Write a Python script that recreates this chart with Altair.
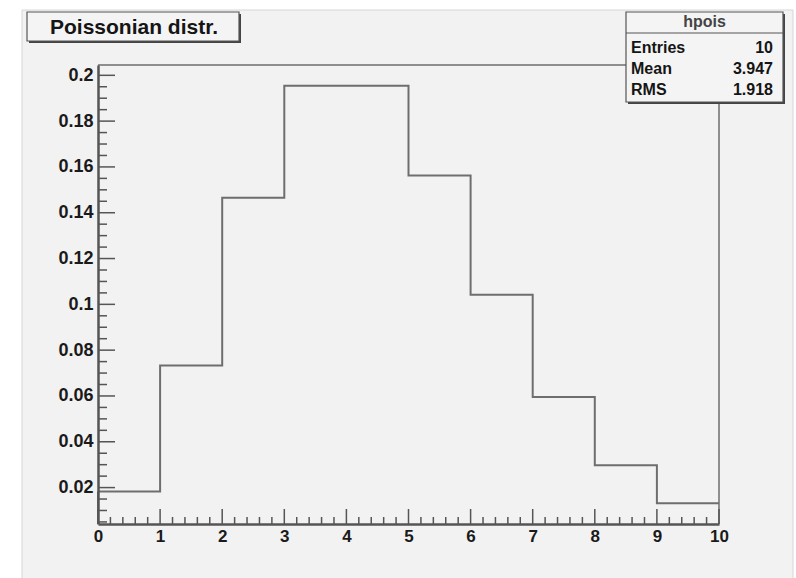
import altair as alt
import pandas as pd

# Histogram "hpois": Poisson probabilities, unit-width bins on [0, 10]
bin_edges = [0, 1, 2, 3, 4, 5, 6, 7, 8, 9, 10]
bin_contents = [0.0183, 0.0733, 0.1465, 0.1954, 0.1954, 0.1563, 0.1042, 0.0595, 0.0298, 0.0132]

x_major = [0, 1, 2, 3, 4, 5, 6, 7, 8, 9, 10]
x_minor = [i / 5 for i in range(51) if i % 5 != 0]
y_major = [0.02, 0.04, 0.06, 0.08, 0.10, 0.12, 0.14, 0.16, 0.18, 0.20]
y_minor = [round(0.005 * i, 3) for i in range(1, 41) if i % 4 != 0]

title_text = "Poissonian distr."
stats_name = "hpois"
stats_labels = ["Entries", "Mean", "RMS"]
stats_values = ["10", "3.947", "1.918"]

W, H = 621, 459
Y_DOMAIN = [0.0041, 0.2045]
FONT = "Liberation Sans"
LINE = "#6e6e6e"

xs = alt.Scale(domain=[0, 10], nice=False, zero=False)
ys = alt.Scale(domain=Y_DOMAIN, nice=False, zero=False)

one = alt.Data(values=[{"d": 0}])

# grey pad behind everything
pad = alt.Chart(one).mark_rect(fill="#f2f2f2", stroke="#d6d6d6", strokeWidth=1).encode(
    x=alt.value(-76), x2=alt.value(695), y=alt.value(-55), y2=alt.value(515)
)

# histogram outline (step line closing on the last bin edge)
hist_df = pd.DataFrame({
    "x": bin_edges,
    "y": bin_contents + [bin_contents[-1]],
})
hist = alt.Chart(hist_df).mark_line(
    interpolate="step-after", color=LINE, strokeWidth=2
).encode(
    x=alt.X("x:Q", scale=xs, axis=alt.Axis(
        values=x_major, format="d", tickSize=0, labelPadding=4, domain=True,
        domainColor="#555555", domainWidth=2.5, grid=False, title=None, zindex=2,
        labelFont=FONT, labelFontSize=17, labelFontWeight="bold", labelColor="#1a1a1a",
        labelFlush=False)),
    y=alt.Y("y:Q", scale=ys, axis=alt.Axis(
        values=y_major, format="~g", tickSize=0, labelPadding=5, domain=True,
        domainColor="#555555", domainWidth=2.5, grid=False, title=None, zindex=2,
        labelFont=FONT, labelFontSize=18, labelFontWeight="bold", labelColor="#1a1a1a")),
)
# left edge of the first bin rising from the axis
hist_left = alt.Chart(pd.DataFrame({"x": [0], "y0": [Y_DOMAIN[0]], "y1": [bin_contents[0]]})).mark_rule(
    color=LINE, strokeWidth=2
).encode(x=alt.X("x:Q", scale=xs), y=alt.Y("y0:Q", scale=ys), y2="y1:Q")

# frame (top and right sides)
frame_top = alt.Chart(one).mark_rule(color=LINE, strokeWidth=1.5).encode(
    x=alt.value(0), x2=alt.value(W), y=alt.value(0))
frame_right = alt.Chart(one).mark_rule(color=LINE, strokeWidth=1.5).encode(
    x=alt.value(W), y=alt.value(0), y2=alt.value(H))

# inward ticks
xmaj = alt.Chart(pd.DataFrame({"v": x_major})).mark_rule(color="#555555", strokeWidth=1.5).encode(
    x=alt.X("v:Q", scale=xs), y=alt.value(H - 15), y2=alt.value(H))
xmin = alt.Chart(pd.DataFrame({"v": x_minor})).mark_rule(color="#555555", strokeWidth=1.5).encode(
    x=alt.X("v:Q", scale=xs), y=alt.value(H - 7), y2=alt.value(H))
ymaj = alt.Chart(pd.DataFrame({"v": y_major})).mark_rule(color="#555555", strokeWidth=1.5).encode(
    y=alt.Y("v:Q", scale=ys), x=alt.value(0), x2=alt.value(17))
ymin = alt.Chart(pd.DataFrame({"v": y_minor})).mark_rule(color="#555555", strokeWidth=1.5).encode(
    y=alt.Y("v:Q", scale=ys), x=alt.value(0), x2=alt.value(9))


def box(x0, x1, y0, y1):
    shadow = alt.Chart(one).mark_rect(fill="#444444").encode(
        x=alt.value(x0 + 2), x2=alt.value(x1 + 2), y=alt.value(y0 + 2), y2=alt.value(y1 + 2))
    body = alt.Chart(one).mark_rect(fill="#f4f4f4", stroke="#555555", strokeWidth=1.2).encode(
        x=alt.value(x0), x2=alt.value(x1), y=alt.value(y0), y2=alt.value(y1))
    return [shadow, body]


# title box
title_layers = box(-71, 141, -53, -24) + [
    alt.Chart(pd.DataFrame({"t": [title_text]})).mark_text(
        font=FONT, fontSize=21, fontWeight="bold", color="#151515", align="center", baseline="middle"
    ).encode(text="t:N", x=alt.value(36), y=alt.value(-37))
]

# statistics box
SX0, SX1, SY0, SY1 = 528, 685, -53, 37
stats_layers = box(SX0, SX1, SY0, SY1)
stats_layers.append(alt.Chart(one).mark_rule(color="#555555", strokeWidth=1.2).encode(
    x=alt.value(SX0), x2=alt.value(SX1), y=alt.value(-32)))
stats_layers.append(alt.Chart(pd.DataFrame({"t": [stats_name]})).mark_text(
    font=FONT, fontSize=16, fontWeight="bold", color="#444444", align="center", baseline="middle"
).encode(text="t:N", x=alt.value((SX0 + SX1) / 2), y=alt.value(-43)))
for i, (lab, val) in enumerate(zip(stats_labels, stats_values)):
    yy = -17 + 21 * i
    stats_layers.append(alt.Chart(pd.DataFrame({"t": [lab]})).mark_text(
        font=FONT, fontSize=16, fontWeight="bold", color="#151515", align="left", baseline="middle"
    ).encode(text="t:N", x=alt.value(SX0 + 5), y=alt.value(yy)))
    stats_layers.append(alt.Chart(pd.DataFrame({"t": [val]})).mark_text(
        font=FONT, fontSize=16, fontWeight="bold", color="#151515", align="right", baseline="middle"
    ).encode(text="t:N", x=alt.value(SX1 - 10), y=alt.value(yy)))

chart = alt.layer(
    pad, hist, hist_left, frame_top, frame_right, xmaj, xmin, ymaj, ymin,
    *title_layers, *stats_layers
).properties(
    width=W, height=H,
    autosize=alt.AutoSizeParams(type="none"),
    padding={"left": 98, "top": 65, "right": 77, "bottom": 54},
    background="white",
).configure_view(stroke=None)

chart.save("out.html", embed_options={"renderer": "svg", "actions": False})
